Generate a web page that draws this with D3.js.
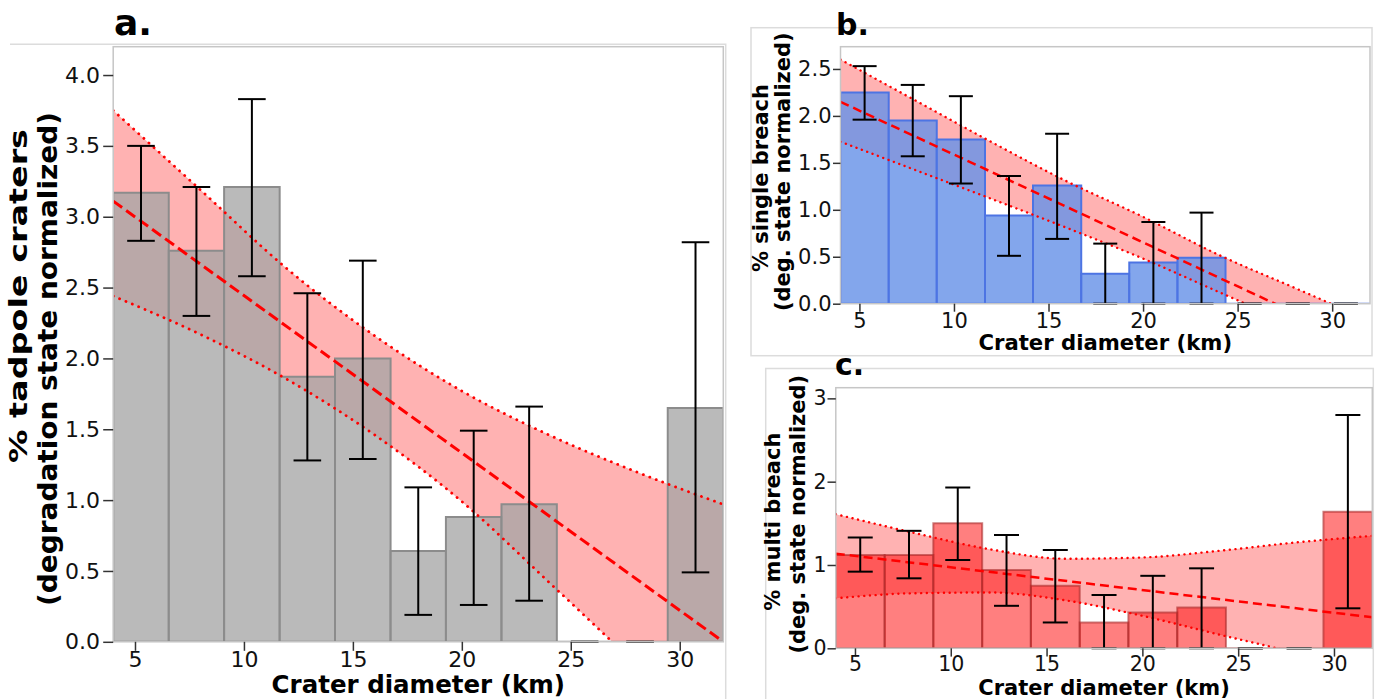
<!DOCTYPE html>
<html>
<head>
<meta charset="utf-8">
<script src="https://cdn.jsdelivr.net/npm/d3@7"></script>
<style>
body { margin: 0; background: #fff; }
text { font-family: "DejaVu Sans", sans-serif; }
</style>
</head>
<body>
<script>

// histogram bins (crater diameter, km)
var binEdges = [4, 6.55, 9.09, 11.64, 14.18, 16.73, 19.27, 21.82, 24.36, 26.91, 29.45, 32];
var xTicks = [5, 10, 15, 20, 25, 30];

// regression line end points and confidence band sample positions
var fitX = [4, 32];
var bandX = [4, 8, 12, 16, 20, 24, 28, 32];

// a. tadpole craters
var tadpoleValues = [3.17, 2.76, 3.21, 1.87, 2.00, 0.64, 0.88, 0.97, 0, 0, 1.65];
var tadpoleErrLow = [2.83, 2.30, 2.58, 1.28, 1.29, 0.19, 0.26, 0.29, 0, 0, 0.49];
var tadpoleErrHigh = [3.50, 3.21, 3.83, 2.46, 2.69, 1.09, 1.49, 1.66, 0, 0, 2.82];
var tadpoleFit = [3.11, 0.0];
var tadpoleUpper = [3.75, 3.19, 2.63, 2.16, 1.77, 1.46, 1.20, 0.97];
var tadpoleLower = [2.44, 2.17, 1.85, 1.46, 0.99, 0.42, -0.16, -0.75];
var tadpoleTicks = [0, 0.5, 1, 1.5, 2, 2.5, 3, 3.5, 4];

// b. single breach
var singleValues = [2.25, 1.95, 1.75, 0.94, 1.26, 0.32, 0.44, 0.49, 0, 0, 0];
var singleErrLow = [1.96, 1.57, 1.28, 0.51, 0.69, 0, 0, 0, 0, 0, 0];
var singleErrHigh = [2.53, 2.33, 2.21, 1.36, 1.81, 0.64, 0.87, 0.97, 0, 0, 0];
var singleFit = [2.15, -0.47];
var singleUpper = [2.60, 2.16, 1.72, 1.30, 0.925, 0.52, 0.17, -0.18];
var singleLower = [1.725, 1.42, 1.115, 0.805, 0.48, 0.125, -0.23, -0.60];
var singleTicks = [0, 0.5, 1, 1.5, 2, 2.5];

// c. multi breach
var multiValues = [1.12, 1.12, 1.50, 0.94, 0.75, 0.31, 0.43, 0.49, 0, 0, 1.64];
var multiErrLow = [0.92, 0.84, 1.06, 0.51, 0.31, 0, 0, 0, 0, 0, 0.48];
var multiErrHigh = [1.33, 1.41, 1.93, 1.36, 1.18, 0.64, 0.87, 0.96, 0, 0, 2.80];
var multiFit = [1.136, 0.372];
var multiUpper = [1.61, 1.39, 1.19, 1.075, 1.09, 1.17, 1.27, 1.35];
var multiLower = [0.60, 0.66, 0.67, 0.575, 0.39, 0.165, -0.06, -0.35];
var multiTicks = [0, 1, 2, 3];

var svg = d3.select("body").append("svg")
    .attr("width", 1380)
    .attr("height", 699);

// light panel outlines
svg.append("path")
    .attr("d", "M10,44.3H725.7V699")
    .attr("fill", "none").attr("stroke", "#dcdcdc").attr("stroke-width", 1.5);
svg.append("rect")
    .attr("x", 751).attr("y", 27.7).attr("width", 621).attr("height", 328)
    .attr("fill", "none").attr("stroke", "#dcdcdc").attr("stroke-width", 1.5);
svg.append("path")
    .attr("d", "M765.7,699V368.5H1373.3V699")
    .attr("fill", "none").attr("stroke", "#dcdcdc").attr("stroke-width", 1.5);

var panels = [
    {
        id: "a", title: "a.", titleX: 114, titleY: 35, titleSize: 36,
        left: 113.2, right: 723.3, top: 46.7, bottom: 641.8, yMax: 4.2,
        yTicks: tadpoleTicks, yFormat: d3.format(".1f"),
        tickY: 10, padY: 3.3, tickX: 9, padX: 1, tickFont: 22,
        xLabelY: 693, labelFont: 24.5,
        yLabels: [
            { text: "% tadpole craters", x: 27, y: 296, size: 25, length: 334 },
            { text: "(degradation state normalized)", x: 57, y: 359, size: 27, length: 494 }
        ],
        values: tadpoleValues, low: tadpoleErrLow, high: tadpoleErrHigh,
        fit: tadpoleFit, upper: tadpoleUpper, lower: tadpoleLower,
        barFill: "rgb(165,165,165)", barOpacity: 0.77, barStroke: "#8c8c8c", barStrokeOpacity: 1,
        cap: 13.8, dash: "11,5", dashWidth: 3, dot: "0.1,6.8", dotWidth: 2.8
    },
    {
        id: "b", title: "b.", titleX: 836, titleY: 35, titleSize: 30,
        left: 840.5, right: 1370, top: 46.7, bottom: 303.7, yMax: 2.737,
        yTicks: singleTicks, yFormat: d3.format(".1f"),
        tickY: 7.5, padY: 1.5, tickX: 8, padX: 1, tickFont: 21,
        xLabelY: 350, labelFont: 21.2,
        yLabels: [
            { text: "% single breach", x: 768, y: 178, size: 21 },
            { text: "(deg. state normalized)", x: 789.5, y: 171.7, size: 21 }
        ],
        values: singleValues, low: singleErrLow, high: singleErrHigh,
        fit: singleFit, upper: singleUpper, lower: singleLower,
        barFill: "rgb(104,146,232)", barOpacity: 0.82, barStroke: "#4d74e3", barStrokeOpacity: 1,
        cap: 12, dash: "9,5", dashWidth: 2.5, dot: "0.1,5.6", dotWidth: 2.4
    },
    {
        id: "c", title: "c.", titleX: 835, titleY: 375, titleSize: 30,
        left: 835.8, right: 1372.3, top: 387.7, bottom: 648.3, yMax: 3.128,
        yTicks: multiTicks, yFormat: d3.format("d"),
        tickY: 8.3, padY: 1, tickX: 8.3, padX: 0, tickFont: 20.5,
        xLabelY: 694.5, labelFont: 21,
        yLabels: [
            { text: "% multi breach", x: 780, y: 521.7, size: 21 },
            { text: "(deg. state normalized)", x: 804.5, y: 514.2, size: 21 }
        ],
        values: multiValues, low: multiErrLow, high: multiErrHigh,
        fit: multiFit, upper: multiUpper, lower: multiLower,
        barFill: "red", barOpacity: 0.5, barStroke: "#a82828", barStrokeOpacity: 0.6,
        cap: 12.5, dash: "9,5", dashWidth: 2.5, dot: "0.1,5.6", dotWidth: 2.4
    }
];

panels.forEach(drawPanel);

function drawPanel(p) {

    var x = d3.scaleLinear().domain([4, 32]).range([p.left, p.right]);
    var y = d3.scaleLinear().domain([0, p.yMax]).range([p.bottom, p.top]);

    var g = svg.append("g").attr("class", "panel-" + p.id);

    g.append("clipPath")
        .attr("id", "clip-" + p.id)
        .append("rect")
        .attr("x", p.left).attr("y", p.top)
        .attr("width", p.right - p.left)
        .attr("height", p.bottom - p.top);

    var plot = g.append("g").attr("clip-path", "url(#clip-" + p.id + ")");

    // confidence band
    var band = bandX.map(function(bx, i) {
        return { x: bx, lo: p.lower[i], hi: p.upper[i] };
    });
    plot.append("path")
        .datum(band)
        .attr("d", d3.area()
            .x(function(d) { return x(d.x); })
            .y0(function(d) { return y(d.lo); })
            .y1(function(d) { return y(d.hi); })
            .curve(d3.curveMonotoneX))
        .attr("fill", "red")
        .attr("fill-opacity", 0.3);

    // histogram bars (paths so that empty bins still leave an edge on the axis)
    var bins = p.values.map(function(v, i) {
        return {
            x0: binEdges[i], x1: binEdges[i + 1],
            mid: (binEdges[i] + binEdges[i + 1]) / 2,
            v: v, lo: p.low[i], hi: p.high[i]
        };
    });
    plot.selectAll(".bar")
        .data(bins)
        .enter()
        .append("path")
        .attr("class", "bar")
        .attr("d", function(d) {
            return "M" + x(d.x0) + "," + y(0) + "V" + y(d.v) + "H" + x(d.x1) + "V" + y(0) + "Z";
        })
        .attr("fill", p.barFill)
        .attr("fill-opacity", p.barOpacity)
        .attr("stroke", p.barStroke)
        .attr("stroke-opacity", p.barStrokeOpacity)
        .attr("stroke-width", 2);

    // band edges, dotted
    var bandLine = d3.line()
        .x(function(d) { return x(d.x); })
        .y(function(d) { return y(d.v); })
        .curve(d3.curveMonotoneX);
    [p.upper, p.lower].forEach(function(edge) {
        plot.append("path")
            .datum(bandX.map(function(bx, i) { return { x: bx, v: edge[i] }; }))
            .attr("d", bandLine)
            .attr("fill", "none")
            .attr("stroke", "red")
            .attr("stroke-width", p.dotWidth)
            .attr("stroke-linecap", "round")
            .attr("stroke-dasharray", p.dot);
    });

    // fitted line, dashed
    plot.append("path")
        .datum(fitX.map(function(fx, i) { return { x: fx, v: p.fit[i] }; }))
        .attr("d", bandLine)
        .attr("fill", "none")
        .attr("stroke", "red")
        .attr("stroke-width", p.dashWidth)
        .attr("stroke-dasharray", p.dash);

    // error bars
    var err = g.append("g").attr("class", "errors");
    err.selectAll(".stem")
        .data(bins).enter().append("line")
        .attr("x1", function(d) { return x(d.mid); })
        .attr("x2", function(d) { return x(d.mid); })
        .attr("y1", function(d) { return y(d.lo); })
        .attr("y2", function(d) { return y(d.hi); });
    err.selectAll(".capHi")
        .data(bins).enter().append("line")
        .attr("x1", function(d) { return x(d.mid) - p.cap; })
        .attr("x2", function(d) { return x(d.mid) + p.cap; })
        .attr("y1", function(d) { return y(d.hi); })
        .attr("y2", function(d) { return y(d.hi); });
    err.selectAll(".capLo")
        .data(bins).enter().append("line")
        .attr("x1", function(d) { return x(d.mid) - p.cap; })
        .attr("x2", function(d) { return x(d.mid) + p.cap; })
        .attr("y1", function(d) { return y(d.lo); })
        .attr("y2", function(d) { return y(d.lo); });
    err.selectAll("line")
        .attr("stroke", "black")
        .attr("stroke-width", 2);

    // frame
    g.append("rect")
        .attr("x", p.left).attr("y", p.top)
        .attr("width", p.right - p.left)
        .attr("height", p.bottom - p.top)
        .attr("fill", "none")
        .attr("stroke", "#c6c6c6")
        .attr("stroke-width", 1.5);

    // axes
    var yAxis = g.append("g")
        .attr("transform", "translate(" + p.left + ",0)")
        .call(d3.axisLeft(y)
            .tickValues(p.yTicks)
            .tickFormat(p.yFormat)
            .tickSize(p.tickY)
            .tickPadding(p.padY));

    var xAxis = g.append("g")
        .attr("transform", "translate(0," + p.bottom + ")")
        .call(d3.axisBottom(x)
            .tickValues(xTicks)
            .tickSize(p.tickX)
            .tickPadding(p.padX));

    [yAxis, xAxis].forEach(function(ax) {
        ax.select(".domain").remove();
        ax.selectAll("line").attr("stroke", "#333").attr("stroke-width", 1.5);
        ax.selectAll("text")
            .attr("fill", "#111")
            .style("font-size", p.tickFont + "px");
    });

    // labels
    g.append("text")
        .attr("x", (p.left + p.right) / 2)
        .attr("y", p.xLabelY)
        .attr("text-anchor", "middle")
        .style("font-weight", "bold")
        .style("font-size", p.labelFont + "px")
        .text("Crater diameter (km)");

    p.yLabels.forEach(function(l) {
        var t = g.append("text")
            .attr("transform", "translate(" + l.x + "," + l.y + ") rotate(-90)")
            .attr("text-anchor", "middle")
            .style("font-weight", "bold")
            .style("font-size", l.size + "px")
            .text(l.text);
        if (l.length) {
            t.attr("textLength", l.length).attr("lengthAdjust", "spacingAndGlyphs");
        }
    });

    g.append("text")
        .attr("x", p.titleX)
        .attr("y", p.titleY)
        .style("font-weight", "bold")
        .style("font-size", p.titleSize + "px")
        .text(p.title);
}

</script>
</body>
</html>
